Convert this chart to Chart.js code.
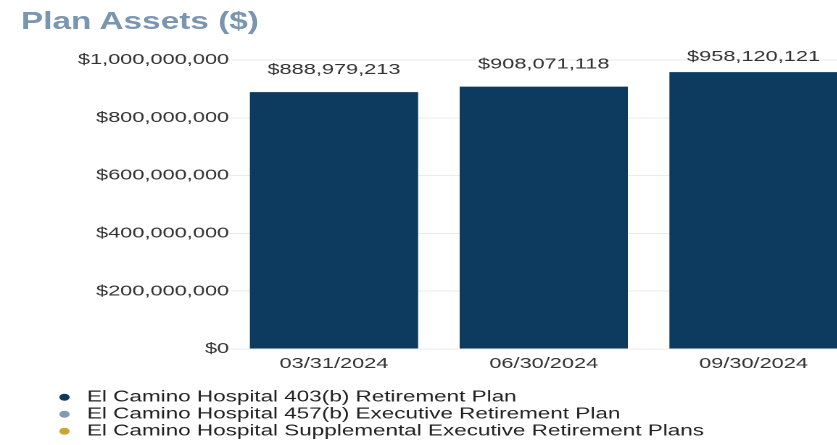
<!DOCTYPE html>
<html>
<head>
<meta charset="utf-8">
<title>Plan Assets</title>
<script src="https://cdn.jsdelivr.net/npm/chart.js@4.4.1/dist/chart.umd.min.js"></script>
<style>
  html, body { margin: 0; padding: 0; background: #fff; overflow: hidden; }
  body { width: 837px; height: 445px; }
  /* the source picture is stretched sideways, so the whole chart is too */
  .wrap { position: relative; width: 592px; height: 449px; transform: scaleX(1.45); transform-origin: 0 0; }
  .wrap h2 { position: absolute; left: 14.5px; top: 8px; margin: 0; font: bold 23px "Liberation Sans", Arial, sans-serif; color: #7a96ae; }
  .wrap canvas { position: absolute; left: 0; top: 0; }
</style>
</head>
<body>
<div class="wrap">
  <h2>Plan Assets ($)</h2>
  <canvas id="assetsChart" width="592" height="449"></canvas>
</div>
<script>
const categories = ["03/31/2024", "06/30/2024", "09/30/2024"];
const seriesNames = [
  "El Camino Hospital 403(b) Retirement Plan",
  "El Camino Hospital 457(b) Executive Retirement Plan",
  "El Camino Hospital Supplemental Executive Retirement Plans",
];
const plan403b = [888979213, 908071118, 958120121];
const plan457b = [0, 0, 0];
const serpPlans = [0, 0, 0];
const yTicks = [0, 200000000, 400000000, 600000000, 800000000, 1000000000];

const FONT = '"Liberation Sans", Arial, sans-serif';
const money = (v) => "$" + Number(v).toLocaleString("en-US");

// totals above each stack
const totalLabels = {
  id: "totalLabels",
  afterDatasetsDraw(chart) {
    const { ctx, chartArea } = chart;
    const meta = chart.getDatasetMeta(0);
    const y = chart.scales.y;
    ctx.save();
    ctx.font = "15px " + FONT;
    ctx.fillStyle = "#333";
    ctx.textAlign = "center";
    ctx.textBaseline = "middle";
    categories.forEach((c, i) => {
      const total = plan403b[i] + plan457b[i] + serpPlans[i];
      const top = y.getPixelForValue(total);
      ctx.fillText(money(total), meta.data[i].x, Math.max(top - 22, chartArea.top - 3));
    });
    ctx.restore();
  },
};

new Chart(document.getElementById("assetsChart"), {
  type: "bar",
  data: {
    labels: categories,
    datasets: [
      { label: seriesNames[0], data: plan403b, backgroundColor: "#0c3b5f" },
      { label: seriesNames[1], data: plan457b, backgroundColor: "#7f9ab3" },
      { label: seriesNames[2], data: serpPlans, backgroundColor: "#c9a630" },
    ],
  },
  options: {
    responsive: false,
    animation: false,
    devicePixelRatio: 2,
    layout: { padding: { top: 60, left: 35.2, right: 0, bottom: 0 } },
    datasets: { bar: { categoryPercentage: 1, barPercentage: 0.802, borderWidth: 0 } },
    plugins: {
      tooltip: { enabled: false },
      legend: {
        position: "bottom",
        align: "start",
        labels: {
          usePointStyle: true,
          pointStyle: "circle",
          boxWidth: 19,
          boxHeight: 5,
          padding: 1.5,
          color: "#222",
          font: { family: FONT, size: 15.5 },
        },
      },
    },
    scales: {
      x: {
        stacked: true,
        afterFit: (s) => { s.height = 39; },
        grid: { display: false, drawTicks: false },
        border: { display: false },
        ticks: { color: "#333", padding: 7.5, font: { family: FONT, size: 15, lineHeight: 1 } },
      },
      y: {
        stacked: true,
        min: 0,
        max: 1000000000,
        afterBuildTicks: (s) => { s.ticks = yTicks.map((v) => ({ value: v })); },
        afterFit: (s) => { s.width = 122.8; },
        grid: { color: "#eeebe6", drawTicks: false },
        border: { display: false },
        ticks: { color: "#333", padding: 0, font: { family: FONT, size: 15 }, callback: (v) => money(v) },
      },
    },
  },
  plugins: [totalLabels],
});
</script>
</body>
</html>
